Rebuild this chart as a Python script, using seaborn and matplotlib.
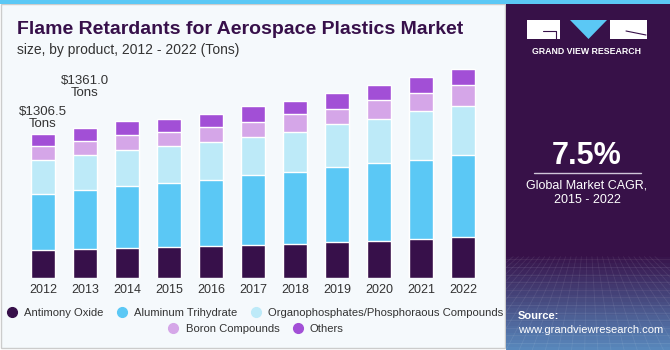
import numpy as np
import pandas as pd
import matplotlib.pyplot as plt
import seaborn as sns
from matplotlib.patches import Rectangle, Polygon
from matplotlib.lines import Line2D

# values (tons)
years = ["2012", "2013", "2014", "2015", "2016", "2017", "2018", "2019", "2020", "2021", "2022"]
antimony = [252, 264, 275, 282, 291, 303, 312, 327, 339, 352, 373]
aluminum = [512, 537, 561, 582, 600, 631, 652, 679, 709, 724, 745]
organo = [306, 315, 327, 334, 345, 348, 366, 394, 397, 443, 445]
boron = [127, 132, 139, 130, 136, 136, 161, 139, 170, 166, 188]
others = [109, 113, 122, 118, 121, 145, 121, 140, 136, 140, 145]

series = ["Antimony Oxide", "Aluminum Trihydrate", "Organophosphates/Phosphoraous Compounds",
          "Boron Compounds", "Others"]
colors = ["#37104a", "#5bc8f5", "#bdeaf8", "#d5a6e8", "#a24fd6"]

df = pd.DataFrame({"year": years, series[0]: antimony, series[1]: aluminum,
                   series[2]: organo, series[3]: boron, series[4]: others})
cum = df[series].cumsum(axis=1)

sns.set_style("white")
plt.rcParams["font.family"] = ["Liberation Sans", "DejaVu Sans"]

W, H = 670, 350
fig = plt.figure(figsize=(6.7, 3.5), dpi=100)
fig.patch.set_facecolor("white")

def fx(x):
    return x / W

def fy(y):
    return 1 - y / H

# panels (behind everything)
fig.add_artist(Rectangle((fx(0.5), fy(348)), fx(505), 344 / H, transform=fig.transFigure,
                         facecolor="#f5f9fc", edgecolor="#cccccc", lw=1, zorder=-5))
fig.add_artist(Rectangle((fx(0), fy(4)), 1, 4 / H, transform=fig.transFigure,
                         facecolor="#5bc8f5", edgecolor="none", zorder=-5))

# right panel with gradient at the bottom
rax = fig.add_axes([fx(506), 0, fx(164), fy(4)])
grad = np.ones((100, 2, 3))
top = np.array([0x37, 0x11, 0x48]) / 255
bot = np.array([0x5a, 0x8c, 0xc0]) / 255
for i in range(100):
    t = max(0, (i - 72) / 28)
    grad[i, :, :] = top * (1 - t) + bot * t
rax.imshow(grad, aspect="auto", extent=[0, 1, 0, 1], origin="upper")
for k in range(12):
    yy = 0.02 + k * 0.022
    rax.plot([0, 1], [yy, yy], color="white", alpha=0.08, lw=0.6)
for k in range(-8, 20):
    rax.plot([k * 0.08, 0.5 + (k * 0.08 - 0.5) * 0.4], [0, 0.27], color="white", alpha=0.08, lw=0.6)
rax.set_xlim(0, 1)
rax.set_ylim(0, 1)
rax.axis("off")

# logo
fig.add_artist(Rectangle((fx(527), fy(39)), fx(33), 19 / H, transform=fig.transFigure,
                         facecolor="white", edgecolor="none"))
fig.add_artist(Rectangle((fx(610), fy(39)), fx(37), 19 / H, transform=fig.transFigure,
                         facecolor="white", edgecolor="none"))
fig.add_artist(Polygon([(fx(570), fy(20)), (fx(607), fy(20)), (fx(588.5), fy(39))],
                       transform=fig.transFigure, facecolor="#5bc8f5", edgecolor="none"))
fig.add_artist(Line2D([fx(543), fx(556), fx(556)], [fy(31), fy(31), fy(39)],
                      transform=fig.transFigure, color="#37114a", lw=0.8))
fig.add_artist(Line2D([fx(626), fx(646)], [fy(31), fy(35)],
                      transform=fig.transFigure, color="#37114a", lw=0.8))
fig.text(fx(587), fy(51), "GRAND VIEW RESEARCH", color="white", fontsize=6.3,
         fontweight="bold", ha="center", va="center")

fig.text(fx(587), fy(156), "7.5%", color="white", fontsize=22, fontweight="bold",
         ha="center", va="center")
fig.add_artist(Line2D([fx(534), fx(641)], [fy(173), fy(173)], transform=fig.transFigure,
                      color="#cfc6d8", lw=1))
fig.text(fx(587), fy(193), "Global Market CAGR,\n2015 - 2022", color="white", fontsize=9,
         ha="center", va="center", linespacing=1.3)
fig.text(fx(518), fy(316), "Source:", color="white", fontsize=8, fontweight="bold",
         ha="left", va="center")
fig.text(fx(518), fy(330), "www.grandviewresearch.com", color="white", fontsize=8,
         ha="left", va="center")

# titles
fig.text(fx(17), fy(30), "Flame Retardants for Aerospace Plastics Market", fontsize=14,
         fontweight="heavy", color="#37104a", ha="left", va="center")
fig.text(fx(17), fy(50), "size, by product, 2012 - 2022 (Tons)", fontsize=10,
         color="#333333", ha="left", va="center")

# stacked bars
ax = fig.add_axes([fx(22), fy(278), fx(462), 231 / H])
ax.set_facecolor("none")
for i in range(len(series) - 1, -1, -1):
    sns.barplot(x=df["year"], y=cum[series[i]], color=colors[i], width=0.58,
                saturation=1, ax=ax, zorder=2)
ax.set_ylim(0, 2100)
ax.set_xlim(-0.5, 10.5)
ax.set_xlabel("")
ax.set_ylabel("")
ax.set_yticks([])
ax.tick_params(axis="x", length=0, labelsize=9, colors="#333333", pad=4)
sns.despine(ax=ax, left=True, bottom=True)

ax.text(0, cum[series[-1]][0] + 40, "$1306.5\nTons", ha="center", va="bottom",
        fontsize=9.5, color="#333333", linespacing=1.0)
ax.text(1, cum[series[-1]][1] + 270, "$1361.0\nTons", ha="center", va="bottom",
        fontsize=9.5, color="#333333", linespacing=1.0)

# legend in two rows
def handle(c):
    return Line2D([], [], marker="o", ls="", markersize=7, markerfacecolor=c,
                  markeredgecolor=c)

leg1 = fig.legend([handle(c) for c in colors[:3]], series[:3], loc="center",
                  bbox_to_anchor=(fx(252), fy(313)), ncol=3, frameon=False, fontsize=8.1,
                  handletextpad=0.1, columnspacing=0.6, borderaxespad=0)
leg2 = fig.legend([handle(c) for c in colors[3:]], series[3:], loc="center",
                  bbox_to_anchor=(fx(253), fy(329)), ncol=2, frameon=False, fontsize=8.1,
                  handletextpad=0.1, columnspacing=0.6, borderaxespad=0)
for lg in (leg1, leg2):
    for t in lg.get_texts():
        t.set_color("#333333")

fig.savefig("out.png", dpi=100)
